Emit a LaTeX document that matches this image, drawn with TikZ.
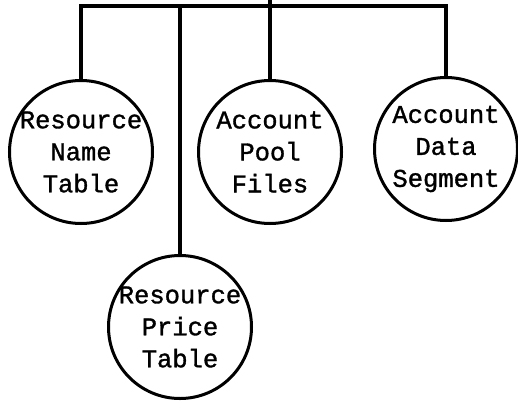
\documentclass[tikz,border=0pt]{standalone}
\usepackage{fontspec}
\newfontfamily\typer[FakeBold=1.3]{Liberation Mono}
\tikzset{
  store/.style={circle, draw, line width=3pt, minimum size=143pt, inner sep=-15pt,
    align=center, font=\typer\fontsize{25.5}{32}\selectfont},
  bus/.style={line width=3.2pt}
}
\begin{document}
\begin{tikzpicture}[x=1pt, y=-1pt]
            \useasboundingbox (0, 0) rectangle (518, 401);
            \node[store] (rnt) at (81, 152) {Resource\\Name\\Table};
            \node[store] (apf) at (270, 152) {Account\\Pool\\Files};
            \node[store] (ads) at (446, 149) {Account\\Data\\Segment};
            \node[store] (rpt) at (180, 327) {Resource\\Price\\Table};
            \coordinate (top) at (0, 0);
            \coordinate (line) at (0, 6);
            \draw[bus] (rnt.north) -- (rnt.north |- line) -- (ads.north |- line) -- (ads.north);
            \draw[bus] (apf.north) -- (apf.north |- top);
            \draw[bus] (rpt.north) -- (rpt.north |- line);
        \end{tikzpicture}
\end{document}
